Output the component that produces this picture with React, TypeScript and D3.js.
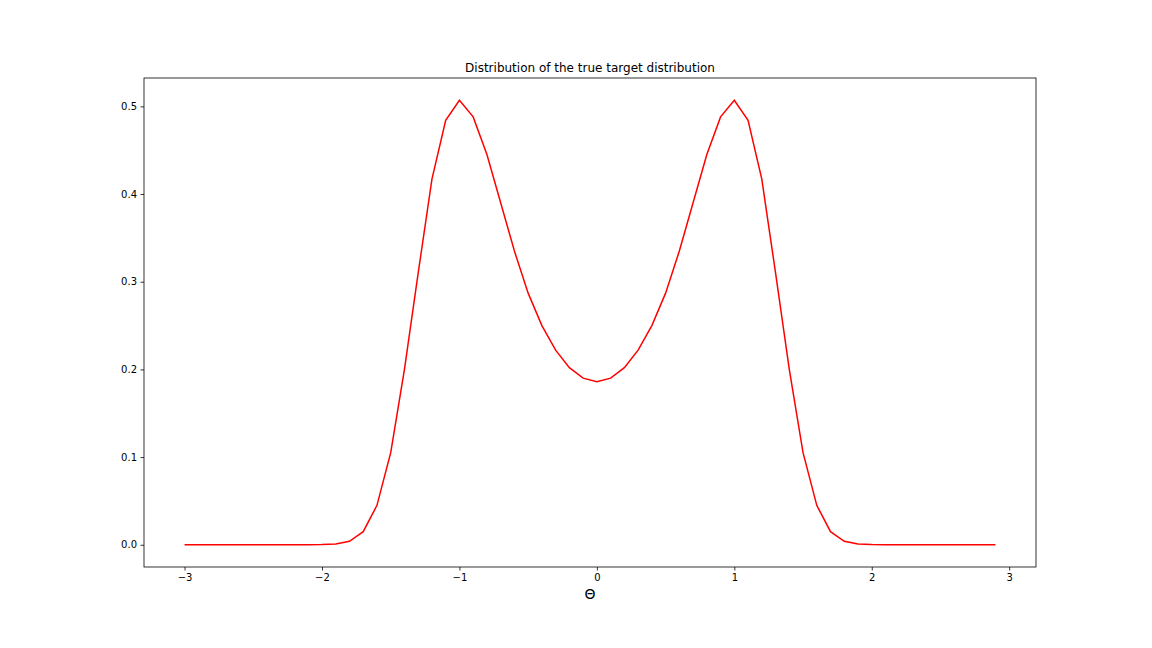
import { useEffect, useRef } from 'react';
import * as d3 from 'd3';

const thetas = [
  -3.0, -2.9, -2.8, -2.7, -2.6, -2.5, -2.4, -2.3, -2.2, -2.1,
  -2.0, -1.9, -1.8, -1.7, -1.6, -1.5, -1.4, -1.3, -1.2, -1.1,
  -1.0, -0.9, -0.8, -0.7, -0.6, -0.5, -0.4, -0.3, -0.2, -0.1,
  0.0, 0.1, 0.2, 0.3, 0.4, 0.5, 0.6, 0.7, 0.8, 0.9,
  1.0, 1.1, 1.2, 1.3, 1.4, 1.5, 1.6, 1.7, 1.8, 1.9,
  2.0, 2.1, 2.2, 2.3, 2.4, 2.5, 2.6, 2.7, 2.8, 2.9,
];
const density = [
  0, 0, 0, 0, 0, 0, 0, 0, 0, 0,
  0.0003, 0.001, 0.004, 0.015, 0.045, 0.105, 0.2, 0.31, 0.417, 0.484,
  0.507, 0.488, 0.445, 0.39, 0.335, 0.287, 0.25, 0.222, 0.202, 0.19,
  0.186, 0.19, 0.202, 0.222, 0.25, 0.287, 0.335, 0.39, 0.445, 0.488,
  0.507, 0.484, 0.417, 0.31, 0.2, 0.105, 0.045, 0.015, 0.004, 0.001,
  0.0003, 0, 0, 0, 0, 0, 0, 0, 0, 0,
];
const xTicks = [-3, -2, -1, 0, 1, 2, 3];
const yTicks = [0, 0.1, 0.2, 0.3, 0.4, 0.5];

export default function App() {
  const svgRef = useRef<SVGSVGElement | null>(null);

  useEffect(() => {
    const svg = d3.select(svgRef.current!);
    svg.selectAll('*').remove();
    const left = 144, right = 1036, top = 78, bottom = 567;
    const x = d3.scaleLinear().domain([-3.295, 3.195]).range([left, right]);
    const y = d3.scaleLinear().domain([-0.02535, 0.53235]).range([bottom, top]);
    const font = 'DejaVu Sans, sans-serif';

    const data = thetas.map((t, i) => [t, density[i]] as [number, number]);
    svg.append('path')
      .attr('d', d3.line().x((d) => x(d[0])).y((d) => y(d[1]))(data))
      .attr('fill', 'none').attr('stroke', 'red').attr('stroke-width', 1.5);

    const xa = svg.append('g').attr('transform', `translate(0,${bottom})`)
      .call(d3.axisBottom(x).tickValues(xTicks).tickSizeOuter(0).tickSize(3.5).tickPadding(3.5)
        .tickFormat((v) => d3.format('d')(v as number).replace('-', '\u2212')));
    const ya = svg.append('g').attr('transform', `translate(${left},0)`)
      .call(d3.axisLeft(y).tickValues(yTicks).tickSizeOuter(0).tickSize(3.5).tickPadding(3.5)
        .tickFormat((v) => d3.format('.1f')(v as number)));
    [xa, ya].forEach((g) => {
      g.select('.domain').remove();
      g.selectAll('text').attr('font-family', font).attr('font-size', 10).attr('fill', '#000');
      g.selectAll('line').attr('stroke', '#000').attr('stroke-width', 0.8);
    });

    svg.append('rect').attr('x', left).attr('y', top).attr('width', right - left).attr('height', bottom - top)
      .attr('fill', 'none').attr('stroke', '#000').attr('stroke-width', 0.8);

    svg.append('text').attr('x', (left + right) / 2).attr('y', 72).attr('text-anchor', 'middle')
      .attr('font-family', font).attr('font-size', 12).text('Distribution of the true target distribution');
    svg.append('text').attr('x', (left + right) / 2).attr('y', 599).attr('text-anchor', 'middle')
      .attr('font-family', font).attr('font-size', 14).text('Θ');
  }, []);

  return <svg ref={svgRef} width={1152} height={648} style={{ position: 'absolute', left: 0, top: 0, background: '#fff' }} />;
}
